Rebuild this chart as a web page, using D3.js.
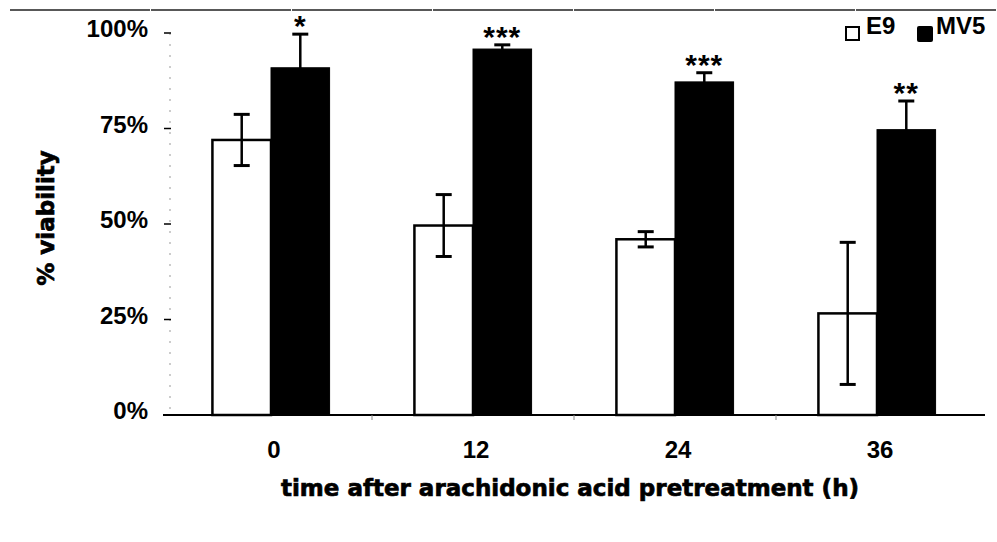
<!DOCTYPE html>
<html>
<head>
<meta charset="utf-8">
<script src="https://cdn.jsdelivr.net/npm/d3@7"></script>
<style>
  body { margin: 0; background: #fff; }
  text { font-family: "Liberation Sans", Arial, sans-serif; font-weight: bold; fill: #000; }
  .heavy { font-family: "DejaVu Sans", "Liberation Sans", sans-serif; }
</style>
</head>
<body>
<div id="chart"></div>
<script>
// data (fraction viable)
const hours = ["0", "12", "24", "36"];
const series = ["E9", "MV5"];
const e9Mean = [0.72, 0.496, 0.46, 0.266];
const e9Err = [0.067, 0.081, 0.02, 0.186];
const mv5Mean = [0.909, 0.958, 0.872, 0.747];
const mv5Err = [0.088, 0.011, 0.024, 0.075];
const stars = ["*", "***", "***", "**"];
const yTicks = [0, 0.25, 0.5, 0.75, 1];

var W = 997, H = 542;
var svg = d3.select("#chart").append("svg").attr("width", W).attr("height", H);

// scan frame line on top
svg.append("line").attr("x1", 10).attr("x2", W).attr("y1", 10).attr("y2", 10)
  .attr("stroke", "#222").attr("stroke-width", 1.5).attr("stroke-dasharray", "140,1");

var xScale = d3.scaleBand().domain(hours).range([170, 978]).paddingInner(0.42).paddingOuter(0.21);
var xSub = d3.scaleBand().domain(series).range([0, xScale.bandwidth()]);
var yScale = d3.scaleLinear().domain([0, 1]).range([415, 33]);

// faint dotted y axis
svg.append("line").attr("x1", 170).attr("x2", 170).attr("y1", yScale(1)).attr("y2", yScale(0))
  .attr("stroke", "#999").attr("stroke-width", 1).attr("stroke-dasharray", "2,9");

// y ticks + labels
var yAxis = svg.append("g");
yAxis.selectAll("line").data(yTicks).enter().append("line")
  .attr("x1", 164).attr("x2", 171)
  .attr("y1", function(d){ return yScale(d); }).attr("y2", function(d){ return yScale(d); })
  .attr("stroke", "#000").attr("stroke-width", 1.5);
yAxis.selectAll("text").data(yTicks).enter().append("text")
  .attr("x", 148).attr("y", function(d){ return yScale(d) + 4; })
  .attr("text-anchor", "end").attr("font-size", 24)
  .text(function(d){ return d3.format(".0%")(d); });

// bars
var groups = svg.selectAll(".grp").data(hours).enter().append("g")
  .attr("transform", function(d){ return "translate(" + xScale(d) + ",0)"; });

groups.append("rect")
  .attr("x", xSub("E9")).attr("width", xSub.bandwidth())
  .attr("y", function(d, i){ return yScale(e9Mean[i]); })
  .attr("height", function(d, i){ return yScale(0) - yScale(e9Mean[i]); })
  .attr("fill", "#fff").attr("stroke", "#000").attr("stroke-width", 2.5);

groups.append("rect")
  .attr("x", xSub("MV5")).attr("width", xSub.bandwidth())
  .attr("y", function(d, i){ return yScale(mv5Mean[i]); })
  .attr("height", function(d, i){ return yScale(0) - yScale(mv5Mean[i]); })
  .attr("fill", "#000").attr("stroke", "#000").attr("stroke-width", 1);

// error bars
function errBar(sel, key, mean, err){
  var cx = xSub(key) + xSub.bandwidth() / 2;
  sel.append("line").attr("x1", cx).attr("x2", cx)
    .attr("y1", function(d, i){ return yScale(mean[i] + err[i]); })
    .attr("y2", function(d, i){ return yScale(mean[i] - err[i]); })
    .attr("stroke", "#000").attr("stroke-width", 2.5);
  [1, -1].forEach(function(s){
    sel.append("line").attr("x1", cx - 8).attr("x2", cx + 8)
      .attr("y1", function(d, i){ return yScale(mean[i] + s * err[i]); })
      .attr("y2", function(d, i){ return yScale(mean[i] + s * err[i]); })
      .attr("stroke", "#000").attr("stroke-width", 3);
  });
}
errBar(groups, "E9", e9Mean, e9Err);
errBar(groups, "MV5", mv5Mean, mv5Err);

// significance stars
groups.append("text")
  .attr("x", xSub("MV5") + xSub.bandwidth() / 2)
  .attr("y", function(d, i){ return yScale(mv5Mean[i] + mv5Err[i]) + 2; })
  .attr("text-anchor", "middle").attr("font-size", 30)
  .attr("letter-spacing", 1)
  .text(function(d, i){ return stars[i]; });

// baseline
svg.append("line").attr("x1", 163).attr("x2", 985).attr("y1", yScale(0)).attr("y2", yScale(0))
  .attr("stroke", "#000").attr("stroke-width", 2);
// small ticks between groups
svg.selectAll(".xt").data(hours.slice(1)).enter().append("line")
  .attr("x1", function(d){ return xScale(d) - xScale.step() * xScale.paddingInner() / 2; })
  .attr("x2", function(d){ return xScale(d) - xScale.step() * xScale.paddingInner() / 2; })
  .attr("y1", yScale(0)).attr("y2", yScale(0) + 5)
  .attr("stroke", "#888").attr("stroke-width", 1);

// x labels
svg.selectAll(".xl").data(hours).enter().append("text")
  .attr("x", function(d){ return xScale(d) + xScale.bandwidth() / 2 + 3; })
  .attr("y", 458).attr("text-anchor", "middle").attr("font-size", 24)
  .text(function(d){ return d; });

// axis titles
svg.append("text").attr("class", "heavy").attr("x", 570).attr("y", 496).attr("text-anchor", "middle")
  .attr("font-size", 23).attr("stroke", "#000").attr("stroke-width", 0.7)
  .text("time after arachidonic acid pretreatment (h)");
svg.append("text").attr("class", "heavy").attr("transform", "translate(54,218) rotate(-90)")
  .attr("text-anchor", "middle").attr("font-size", 23)
  .attr("stroke", "#000").attr("stroke-width", 0.7)
  .text("% viability");

// legend
var legend = svg.append("g");
legend.append("rect").attr("x", 846).attr("y", 27).attr("width", 13).attr("height", 13)
  .attr("fill", "#fff").attr("stroke", "#000").attr("stroke-width", 2);
legend.append("text").attr("x", 866).attr("y", 34).attr("font-size", 24).text(series[0]);
legend.append("rect").attr("x", 917).attr("y", 26).attr("width", 16).attr("height", 16)
  .attr("fill", "#000").attr("rx", 2);
legend.append("text").attr("x", 936).attr("y", 34).attr("font-size", 24).text(series[1]);
</script>
</body>
</html>
